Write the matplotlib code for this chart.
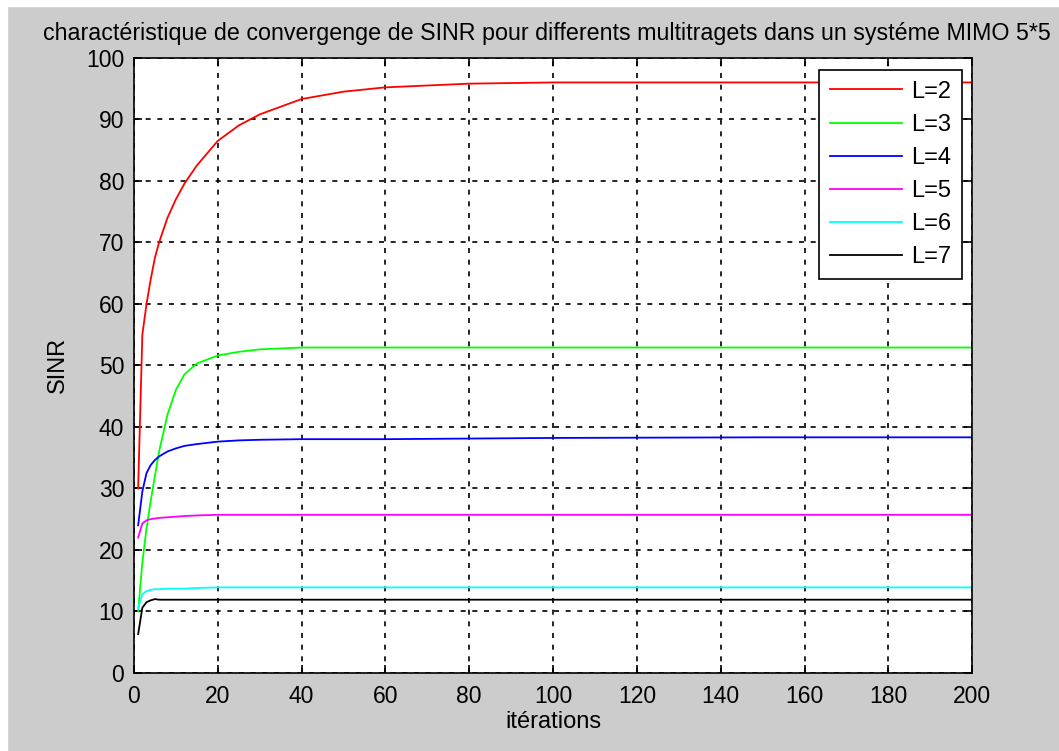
import matplotlib

matplotlib.use("Agg")
import matplotlib.pyplot as plt
from matplotlib.patches import Rectangle

plt.rcParams["font.family"] = ["Liberation Sans", "DejaVu Sans"]

# values
iterations = [1, 2, 3, 4, 5, 6, 8, 10, 12, 15, 20, 25, 30, 40, 50, 60, 80, 100, 150, 200]
sinr_l2 = [30, 55, 60, 64, 67.5, 70, 74, 77, 79.5, 82.5, 86.5, 89, 90.8, 93.3, 94.5, 95.2, 95.8, 96, 96, 96]
sinr_l3 = [10, 18, 23.5, 28, 32, 36, 42, 46, 48.5, 50.3, 51.6, 52.2, 52.6, 52.9, 52.9, 52.9, 52.9, 52.9, 52.9, 52.9]
sinr_l4 = [24, 29.5, 32.5, 33.8, 34.6, 35.2, 36, 36.5, 36.9, 37.2, 37.6, 37.8, 37.9, 38, 38, 38, 38.1, 38.2, 38.3, 38.3]
sinr_l5 = [22, 24.3, 24.8, 25.0, 25.1, 25.2, 25.3, 25.4, 25.5, 25.6, 25.7, 25.7, 25.7, 25.7, 25.7, 25.7, 25.7, 25.7, 25.7, 25.7]
sinr_l6 = [10.5, 12.8, 13.3, 13.5, 13.6, 13.6, 13.7, 13.7, 13.7, 13.8, 13.9, 13.9, 13.9, 13.9, 13.9, 13.9, 13.9, 13.9, 13.9, 13.9]
sinr_l7 = [6.3, 10.6, 11.5, 11.8, 12, 11.9, 11.9, 11.9, 11.9, 11.9, 11.9, 11.9, 11.9, 11.9, 11.9, 11.9, 11.9, 11.9, 11.9, 11.9]

series = [sinr_l2, sinr_l3, sinr_l4, sinr_l5, sinr_l6, sinr_l7]
labels = ["L=2", "L=3", "L=4", "L=5", "L=6", "L=7"]
colors = ["#ff0000", "#00ff00", "#0000ff", "#ff00ff", "#00ffff", "#000000"]

fig = plt.figure(figsize=(10.59, 7.51), dpi=100, facecolor="#cccccc")
# thin white strips left by the screenshot on top and left edges
fig.patches.append(Rectangle((0, 0.992), 1, 0.008, transform=fig.transFigure, color="white", zorder=-1))
fig.patches.append(Rectangle((0, 0), 0.0066, 1, transform=fig.transFigure, color="white", zorder=-1))

ax = fig.add_axes([0.1265, 0.104, 0.7915, 0.819])

for ys, lab, col in zip(series, labels, colors):
    ax.plot(iterations, ys, color=col, lw=1.3, label=lab)

ax.set_xlim(0, 200)
ax.set_ylim(0, 100)
ax.set_xticks(range(0, 201, 20))
ax.set_yticks(range(0, 101, 10))
ax.grid(True, color="black", linestyle=(0, (3, 4)), lw=1.2)
ax.tick_params(direction="in", top=True, right=True, labelsize=16.5, length=6, width=1.2)
ax.tick_params(axis="x", pad=9)
ax.tick_params(axis="y", pad=7)
for s in ax.spines.values():
    s.set_linewidth(1.2)

ax.set_xlabel("itérations", fontsize=17, labelpad=2)
ax.set_ylabel("SINR", fontsize=17, labelpad=12)
ax.set_title("charactéristique de convergenge de SINR pour differents multitragets dans un systéme MIMO 5*5",
             fontsize=16.75, pad=13, x=0.4925)

leg = ax.legend(loc="upper right", bbox_to_anchor=(0.988, 0.98), fontsize=17, fancybox=False,
                framealpha=1, edgecolor="black", handlelength=3.05, handletextpad=0.4,
                labelspacing=0.47, borderpad=0.45, borderaxespad=0)
leg.get_frame().set_linewidth(1.2)

fig.savefig("out.png", dpi=100, facecolor=fig.get_facecolor())
